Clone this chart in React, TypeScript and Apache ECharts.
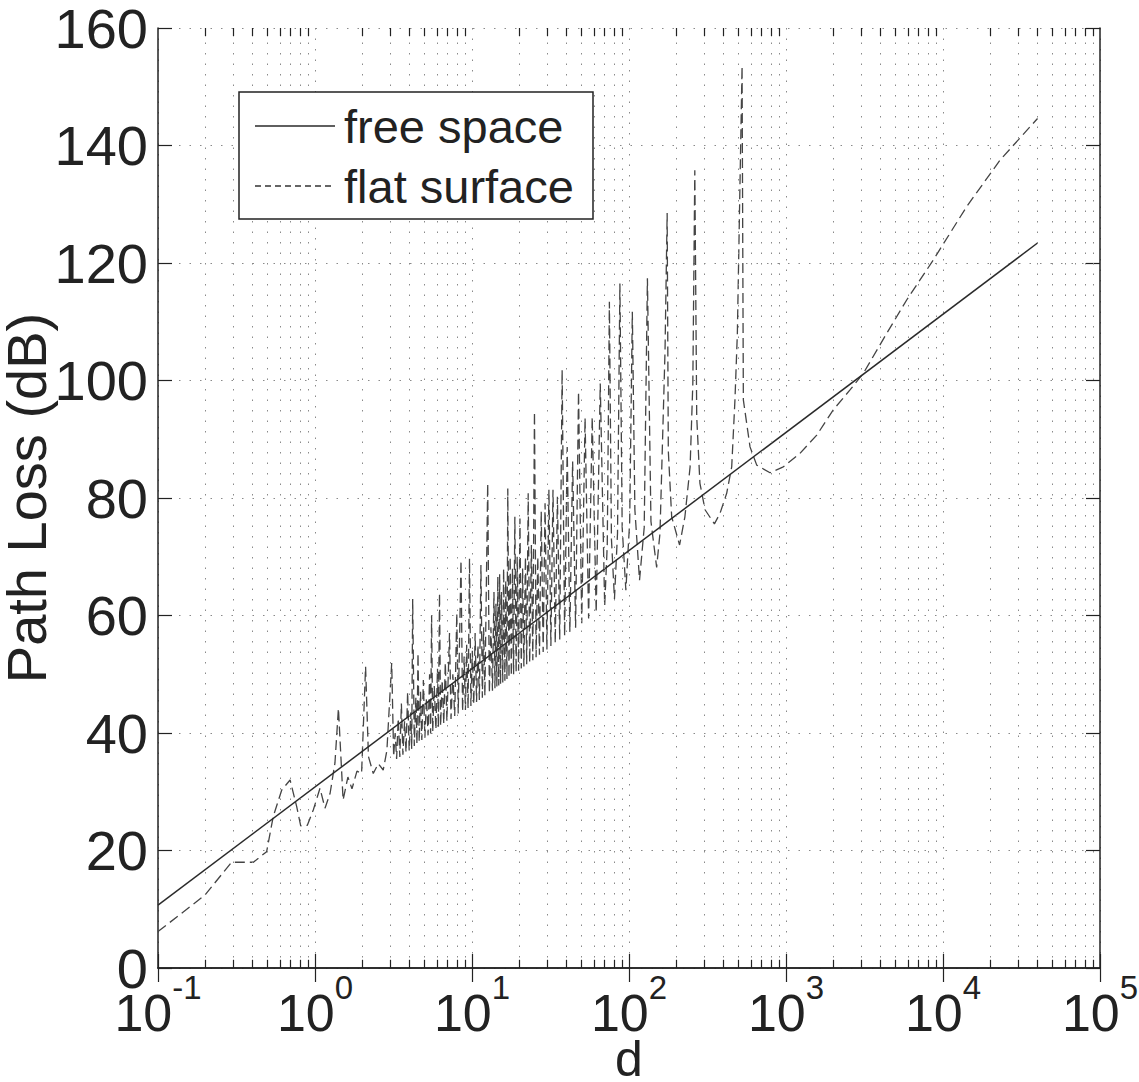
import React, { useEffect, useRef } from "react";
import * as echarts from "echarts";

const FONT = "'Liberation Sans', Arial, Helvetica, sans-serif";

// Free space path loss (solid line) – end points
const freeD = [0.1, 40000];
const freeL = [10.7, 123.4];

// Flat surface (two-ray) path loss
const flatD = [
  0.1, 0.199, 0.294, 0.405, 0.492, 0.542, 0.614, 0.694, 0.764, 0.811,
  0.894, 0.975, 1.076, 1.158, 1.247, 1.34, 1.41, 1.51, 1.62, 1.72,
  1.85, 1.98, 2.1, 2.19, 2.35, 2.53, 2.72, 2.87, 3.08, 3.17,
  3.24, 3.31, 3.39, 3.47, 3.55, 3.63, 3.72, 3.8, 3.89, 3.98,
  4.07, 4.13, 4.19, 4.29, 4.39, 4.46, 4.53, 4.61, 4.7, 4.79,
  4.9, 5.01, 5.13, 5.25, 5.37, 5.45, 5.53, 5.62, 5.75, 5.89,
  6.03, 6.11, 6.21, 6.31, 6.46, 6.61, 6.76, 6.92, 7.19, 7.35,
  7.55, 7.76, 8.0, 8.17, 8.51, 8.71, 8.91, 9.08, 9.25, 9.44,
  9.64, 9.84, 10.05, 10.26, 10.47, 10.69, 10.91, 11.14, 11.4, 11.64,
  11.86, 12.08, 12.59, 12.9, 13.2, 13.5, 13.8, 14.0, 14.2, 14.4,
  14.6, 14.8, 15.0, 15.2, 15.4, 15.7, 15.9, 16.2, 16.4, 16.7,
  16.9, 17.2, 17.5, 17.8, 18.1, 18.4, 18.75, 19.1, 19.4, 19.8,
  20.2, 20.6, 21.0, 21.4, 21.9, 22.3, 22.8, 23.3, 23.9, 24.4,
  25.0, 25.6, 26.25, 26.9, 27.6, 28.4, 29.2, 30.0, 30.9, 31.8,
  32.8, 33.9, 35.0, 36.2, 37.5, 38.9, 40.4, 42.0, 43.75, 45.7,
  47.7, 50.0, 52.5, 55.3, 58.3, 61.8, 65.6, 70.0, 72.7, 75.0,
  77.3, 80.8, 84.5, 87.5, 90.5, 95.5, 101, 105, 109, 116.7,
  125, 131, 138, 150, 157.5, 169.6, 175, 178, 187, 210,
  227, 245, 255, 262.5, 270, 283, 305, 350, 380, 419,
  451, 473, 490, 525, 535, 590, 651, 791, 961, 1227,
  1570, 2000, 2557, 3105, 4375, 5870, 8670, 14150, 23070, 40000,
];
const flatL = [
  6.2, 12.4, 18.0, 18.0, 19.8, 25.8, 30.3, 32.0, 27.5, 24.2,
  24.3, 26.9, 30.6, 27.2, 29.7, 34.9, 44.2, 28.6, 32.5, 30.5,
  33.5, 33.1, 51.3, 36.0, 33.1, 34.8, 33.7, 37.0, 51.9, 36.0,
  40.0, 35.6, 42.5, 35.9, 45.0, 36.3, 42.0, 36.7, 47.0, 37.0,
  43.5, 37.3, 62.8, 37.8, 46.0, 38.1, 53.6, 38.5, 47.0, 38.8,
  49.0, 39.2, 46.0, 39.6, 50.0, 39.9, 60.0, 40.2, 48.0, 40.6,
  51.0, 40.9, 63.8, 41.2, 49.0, 41.6, 52.0, 42.0, 57.0, 42.4,
  50.0, 42.9, 60.4, 43.3, 69.4, 43.7, 53.0, 43.9, 55.0, 44.2,
  69.7, 44.6, 54.0, 44.9, 57.0, 45.3, 55.0, 45.6, 68.6, 46.0,
  58.0, 46.3, 82.5, 46.8, 58.0, 47.2, 64.0, 47.6, 62.0, 47.9,
  66.6, 48.1, 67.0, 48.3, 64.0, 48.6, 68.0, 48.9, 66.0, 49.2,
  81.6, 49.4, 70.0, 49.7, 68.0, 50.0, 76.8, 50.3, 70.0, 50.6,
  76.5, 51.0, 68.0, 51.3, 70.0, 51.7, 80.8, 52.0, 72.0, 52.4,
  94.7, 52.9, 70.0, 53.3, 77.7, 53.8, 79.1, 54.2, 81.4, 54.8,
  81.4, 55.3, 80.2, 55.9, 101.8, 56.5, 88.7, 57.2, 86.2, 57.9,
  98.1, 58.7, 93.6, 59.5, 93.8, 60.5, 99.5, 61.6, 72.0, 113.4,
  73.0, 62.8, 74.0, 116.5, 75.0, 64.3, 76.0, 111.7, 78.0, 66.0,
  75.0, 117.4, 76.0, 68.2, 74.0, 105.0, 128.5, 88.0, 76.8, 72.0,
  76.8, 85.3, 99.5, 135.8, 93.8, 82.5, 78.0, 75.6, 77.4, 80.8,
  85.3, 96.7, 108.0, 153.5, 96.7, 88.7, 85.6, 84.3, 85.3, 87.6,
  90.7, 95.0, 98.4, 101.2, 108.0, 113.7, 120.5, 129.6, 137.5, 144.6,
];

// Minor (log) grid positions of the d axis
const minorD = [
  0.2, 0.3, 0.4, 0.5, 0.6, 0.7, 0.8, 0.9,
  2, 3, 4, 5, 6, 7, 8, 9,
  20, 30, 40, 50, 60, 70, 80, 90,
  200, 300, 400, 500, 600, 700, 800, 900,
  2000, 3000, 4000, 5000, 6000, 7000, 8000, 9000,
  20000, 30000, 40000, 50000, 60000, 70000, 80000, 90000,
];

const xMin = 0.1;
const xMax = 100000;
const yMin = 0;
const yMax = 160;
const yStep = 20;

const seriesNames = ["free space", "flat surface"];

export default function App() {
  const ref = useRef<HTMLDivElement>(null);

  useEffect(() => {
    document.body.style.margin = "0";
    if (!ref.current) return;
    const chart = echarts.init(ref.current, null, { renderer: "svg" });

    const ink = "#222";
    const gridDot = { type: [1.5, 9] as any, color: "#8a8a8a", width: 1 };

    const markData: any[] = [];
    minorD.forEach((d) => {
      markData.push({ xAxis: d, lineStyle: gridDot });
    });
    minorD.forEach((d) => {
      markData.push([
        { coord: [d, yMin], lineStyle: { color: ink, width: 1.2, type: "solid" } },
        { coord: [d, yMin + 1.4] },
      ]);
      markData.push([
        { coord: [d, yMax], lineStyle: { color: ink, width: 1.2, type: "solid" } },
        { coord: [d, yMax - 1.4] },
      ]);
    });

    const axisLineStyle = { lineStyle: { color: ink, width: 1.5 } };
    const tickStyle = { inside: true, length: 14, lineStyle: { color: ink, width: 1.2 } };

    chart.setOption({
      animation: false,
      backgroundColor: "#fff",
      grid: {
        left: 158,
        right: 39,
        top: 28,
        bottom: 114,
        containLabel: false,
        outerBoundsMode: "none",
      },
      xAxis: [
        {
          type: "log",
          logBase: 10,
          min: xMin,
          max: xMax,
          splitNumber: 6,
          position: "bottom",
          axisLine: axisLineStyle,
          axisTick: tickStyle,
          minorTick: { show: false },
          splitLine: { show: true, lineStyle: gridDot },
          axisLabel: {
            margin: 3,
            fontSize: 52,
            fontFamily: FONT,
            color: ink,
            formatter: (v: number) => `{b|10}{s|${Math.round(Math.log10(v))}}`,
            rich: {
              b: { fontSize: 52, fontFamily: FONT, color: ink, padding: [16, 0, 0, 0] },
              s: { fontSize: 33, fontFamily: FONT, color: ink, verticalAlign: "top" },
            },
          },
          name: "d",
          nameLocation: "middle",
          nameGap: 66,
          nameMoveOverlap: false,
          nameTextStyle: { fontSize: 50, fontFamily: FONT, color: ink },
        },
        {
          type: "log",
          logBase: 10,
          min: xMin,
          max: xMax,
          splitNumber: 6,
          position: "top",
          axisLine: axisLineStyle,
          axisTick: tickStyle,
          axisLabel: { show: false },
          splitLine: { show: false },
        },
      ],
      yAxis: [
        {
          type: "value",
          min: yMin,
          max: yMax,
          interval: yStep,
          position: "left",
          axisLine: { show: true, ...axisLineStyle },
          axisTick: { show: true, ...tickStyle },
          splitLine: { show: true, lineStyle: gridDot },
          axisLabel: { margin: 10, fontSize: 56, fontFamily: FONT, color: ink },
          name: "Path Loss (dB)",
          nameLocation: "middle",
          nameRotate: 90,
          nameGap: 104,
          nameMoveOverlap: false,
          nameTextStyle: { fontSize: 56, fontFamily: FONT, color: ink },
        },
        {
          type: "value",
          min: yMin,
          max: yMax,
          interval: yStep,
          position: "right",
          axisLine: { show: true, ...axisLineStyle },
          axisTick: { show: true, ...tickStyle },
          axisLabel: { show: false },
          splitLine: { show: false },
        },
      ],
      series: [
        {
          type: "line",
          name: "grid",
          data: [],
          z: 1,
          silent: true,
          markLine: {
            silent: true,
            symbol: ["none", "none"],
            label: { show: false },
            animation: false,
            data: markData,
          },
        },
        {
          type: "line",
          name: seriesNames[0],
          z: 3,
          data: freeD.map((d, i) => [d, freeL[i]]),
          showSymbol: false,
          lineStyle: { color: "#2a2a2a", width: 1.5 },
        },
        {
          type: "line",
          name: seriesNames[1],
          z: 2,
          data: flatD.map((d, i) => [d, flatL[i]]),
          showSymbol: false,
          lineStyle: { color: "#444", width: 1.3, type: [10, 5] },
        },
      ],
      graphic: [
        {
          type: "rect",
          z: 100,
          shape: { x: 239, y: 92, width: 354, height: 127 },
          style: { fill: "#fff", stroke: ink, lineWidth: 1.5 },
        },
        {
          type: "line",
          z: 101,
          shape: { x1: 255, y1: 126, x2: 335, y2: 126 },
          style: { stroke: "#2a2a2a", lineWidth: 1.5 },
        },
        {
          type: "line",
          z: 101,
          shape: { x1: 255, y1: 186, x2: 335, y2: 186 },
          style: { stroke: "#333", lineWidth: 1.5, lineDash: [6, 4] },
        },
        {
          type: "text",
          z: 101,
          x: 344,
          y: 126,
          style: {
            text: seriesNames[0],
            fontSize: 47,
            fontFamily: FONT,
            fill: ink,
            verticalAlign: "middle",
          },
        },
        {
          type: "text",
          z: 101,
          x: 344,
          y: 186,
          style: {
            text: seriesNames[1],
            fontSize: 47,
            fontFamily: FONT,
            fill: ink,
            verticalAlign: "middle",
          },
        },
      ],
    });

    return () => chart.dispose();
  }, []);

  return <div ref={ref} style={{ width: 1139, height: 1082 }} />;
}
